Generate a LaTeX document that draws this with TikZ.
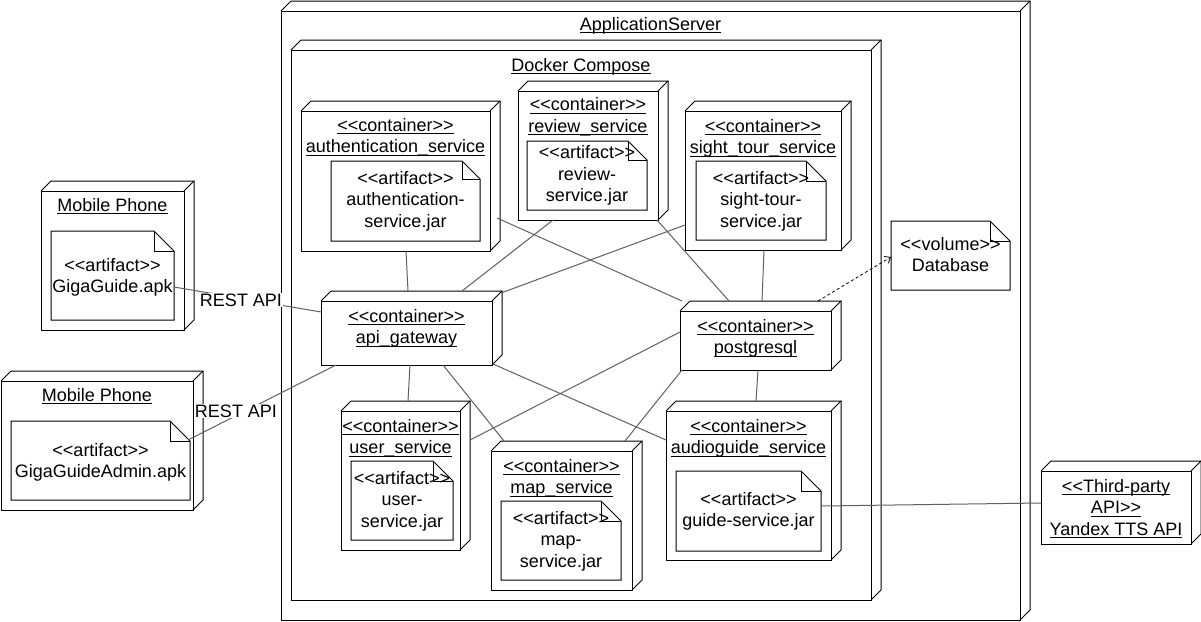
\documentclass[tikz,border=0pt]{standalone}
\usepackage{fontspec}
\newfontfamily\arial{Liberation Sans}
\usetikzlibrary{calc,arrows.meta}
\definecolor{conncol}{RGB}{96,96,96}
\newcommand\dfont{\arial\fontsize{18}{21.5}\selectfont}
\newcommand\myul[1]{\setbox0=\hbox{#1}\leavevmode\rlap{\rule[-3pt]{\wd0}{0.9pt}}\box0}
\newcommand\stereo[1]{<\kern0pt<#1>\kern0pt>}
\newcommand\threed[1]{%
  \draw[boxline] (#1.north west) -- ++(10,-10) -- ($(#1.north east)+(10,-10)$) -- ($(#1.south east)+(10,-10)$) -- (#1.south east);
  \draw[boxline] (#1.north east) -- ++(10,-10);}
\newcommand\notepath[2]{%
  \draw[boxline] (#1.north west) -- ($(#1.north east)+(-#2,0)$) -- ($(#1.north east)+(0,#2)$) -- (#1.south east) -- (#1.south west) -- cycle;
  \draw[boxline] ($(#1.north east)+(-#2,0)$) -- ($(#1.north east)+(-#2,#2)$) -- ($(#1.north east)+(0,#2)$);}
\tikzset{
  frame/.style={draw, line width=1pt, inner sep=0pt, outer sep=0pt},
  boxline/.style={line width=1pt, line join=miter},
  notebox/.style={inner sep=0pt, outer sep=0pt},
  lbl/.style={inner sep=0pt, align=center, anchor=north, font=\dfont},
  link/.style={draw=conncol, line width=1pt},
  restlbl/.style={fill=white, inner sep=1pt, font=\dfont},
}
\begin{document}
\begin{tikzpicture}[x=1pt,y=-1pt]
\useasboundingbox (0,0) rectangle (1201,621);

% ---- 3D nodes (front faces)
\node[frame, minimum width=739pt, minimum height=609pt] (appsrv) at (650.5,315.5) {};
\threed{appsrv}
\node[frame, minimum width=580pt, minimum height=550pt] (docker) at (581,325) {};
\threed{docker}
\node[frame, minimum width=189pt, minimum height=140pt] (auth) at (395.5,181) {};
\threed{auth}
\node[frame, minimum width=140pt, minimum height=129pt] (review) at (588,155.5) {};
\threed{review}
\node[frame, minimum width=156pt, minimum height=139pt] (sight) at (763,180.5) {};
\threed{sight}
\node[frame, minimum width=171pt, minimum height=64pt] (api) at (406.5,333) {};
\threed{api}
\node[frame, minimum width=151pt, minimum height=59pt] (pg) at (755.5,340.5) {};
\threed{pg}
\node[frame, minimum width=119pt, minimum height=139pt] (user) at (400.5,480.5) {};
\threed{user}
\node[frame, minimum width=141pt, minimum height=139pt] (map) at (561.5,520.5) {};
\threed{map}
\node[frame, minimum width=165pt, minimum height=149pt] (audio) at (748.5,485.5) {};
\threed{audio}
\node[frame, minimum width=143pt, minimum height=139pt] (phone1) at (112.5,260.5) {};
\threed{phone1}
\node[frame, minimum width=192pt, minimum height=129pt] (phone2) at (97,445.5) {};
\threed{phone2}
\node[frame, minimum width=150pt, minimum height=73pt] (yandex) at (1116,507.5) {};
\threed{yandex}

% ---- artifacts / notes
\node[notebox, minimum width=149pt, minimum height=80pt] (authA) at (405.5,201) {};
\notepath{authA}{18}
\node[notebox, minimum width=120pt, minimum height=69pt] (reviewA) at (587,175.5) {};
\notepath{reviewA}{19}
\node[notebox, minimum width=130pt, minimum height=79pt] (sightA) at (761,200.5) {};
\notepath{sightA}{20}
\node[notebox, minimum width=102pt, minimum height=79pt] (userA) at (402,500.5) {};
\notepath{userA}{20}
\node[notebox, minimum width=120pt, minimum height=79pt] (mapA) at (561,540.5) {};
\notepath{mapA}{20}
\node[notebox, minimum width=145pt, minimum height=80pt] (audioA) at (748.5,511) {};
\notepath{audioA}{20}
\node[notebox, minimum width=123pt, minimum height=89pt] (phone1A) at (112.5,275.5) {};
\notepath{phone1A}{20}
\node[notebox, minimum width=179pt, minimum height=79pt] (phone2A) at (100.5,460.5) {};
\notepath{phone2A}{20}
\node[notebox, minimum width=119pt, minimum height=69pt] (db) at (950.5,255.5) {};
\notepath{db}{20}

% ---- labels
\node[lbl] (appsrvL) at (650.5,15) {\strut\myul{ApplicationServer}};
\node[lbl] (dockerL) at (581,56) {\strut\myul{Docker Compose}};
\node[lbl] (authL) at (395.5,116) {\strut\myul{\stereo{container}}\\\strut\myul{authentication\_service}};
\node[lbl] (reviewL) at (588,95.5) {\strut\myul{\stereo{container}}\\\strut\myul{review\_service}};
\node[lbl] (sightL) at (763,117) {\strut\myul{\stereo{container}}\\\strut\myul{sight\_tour\_service}};
\node[lbl] (apiL) at (406.5,307) {\strut\myul{\stereo{container}}\\\strut\myul{api\_gateway}};
\node[lbl] (pgL) at (755.5,317) {\strut\myul{\stereo{container}}\\\strut\myul{postgresql}};
\node[lbl] (userL) at (400.5,417) {\strut\myul{\stereo{container}}\\\strut\myul{user\_service}};
\node[lbl] (mapL) at (561.5,457) {\strut\myul{\stereo{container}}\\\strut\myul{map\_service}};
\node[lbl] (audioL) at (748.5,417) {\strut\myul{\stereo{container}}\\\strut\myul{audioguide\_service}};
\node[lbl] (phone1L) at (112.5,196) {\strut\myul{Mobile Phone}};
\node[lbl] (phone2L) at (97,386) {\strut\myul{Mobile Phone}};
\node[lbl] (yandexL) at (1116,477) {\strut\myul{<\kern0pt<Third-party}\\\strut\myul{API>\kern0pt>}\\\strut\myul{Yandex TTS API}};

\node[lbl] (authAL) at (405.5,169) {\strut\stereo{artifact}\\\strut authentication-\\\strut service.jar};
\node[lbl] (reviewAL) at (587,143.5) {\strut\stereo{artifact}\\\strut review-\\\strut service.jar};
\node[lbl] (sightAL) at (761,169) {\strut\stereo{artifact}\\\strut sight-tour-\\\strut service.jar};
\node[lbl] (userAL) at (402,469) {\strut\stereo{artifact}\\\strut user-\\\strut service.jar};
\node[lbl] (mapAL) at (561,509) {\strut\stereo{artifact}\\\strut map-\\\strut service.jar};
\node[lbl] (audioAL) at (748.5,490) {\strut\stereo{artifact}\\\strut guide-service.jar};
\node[lbl] (phone1AL) at (112.5,256) {\strut\stereo{artifact}\\\strut GigaGuide.apk};
\node[lbl] (phone2AL) at (100.5,441) {\strut\stereo{artifact}\\\strut GigaGuideAdmin.apk};
\node[lbl] (dbL) at (950.5,235) {\strut\stereo{volume}\\\strut Database};

% ---- connectors
\draw[link] ($(phone1A.north east)+(0,56)$) -- ($(api.north west)+(0,11)$);
\draw[link] ($(phone2A.north east)+(-2,19)$) -- ($(api.south west)+(15,0)$);
\draw[link] ($(auth.south west)+(105,0)$) -- ($(api.north west)+(87,-10)$);
\draw[link] ($(review.south west)+(35,0)$) -- ($(api.north west)+(141,-10)$);
\draw[link] ($(sight.south west)+(0,-25)$) -- ($(api.north east)+(9,-8)$);
\draw[link] ($(auth.north east)+(7,107)$) -- ($(pg.north west)+(2,-10)$);
\draw[link] ($(review.south east)+(-1,0)$) -- ($(pg.north west)+(49,-10)$);
\draw[link] ($(sight.south west)+(79,0)$) -- ($(pg.north west)+(82,-10)$);
\draw[link] ($(api.south west)+(89,0)$) -- ($(user.north west)+(67,-10)$);
\draw[link] ($(api.south west)+(122,0)$) -- ($(map.north west)+(13,-10)$);
\draw[link] ($(api.south east)+(1,-1)$) -- ($(audio.north west)+(0,29)$);
\draw[link] ($(pg.north west)+(0,21)$) -- ($(user.north east)+(10,29)$);
\draw[link] ($(pg.south west)+(2,0)$) -- ($(map.north west)+(134,-10)$);
\draw[link] ($(pg.south west)+(78,0)$) -- ($(audio.north west)+(90,-10)$);
\draw[draw=black, line width=0.8pt, dash pattern=on 3pt off 2.5pt, -{Straight Barb[length=5pt,width=8pt]}] ($(pg.north west)+(138,-10)$) -- ($(db.north west)+(0,36)$);
\draw[link] ($(audioA.north east)+(0,35)$) -- ($(yandex.north west)+(0,32)$);

\node[restlbl] (rest1) at (241,300) {REST API};
\node[restlbl] (rest2) at (236,411) {REST API};
\end{tikzpicture}
\end{document}
